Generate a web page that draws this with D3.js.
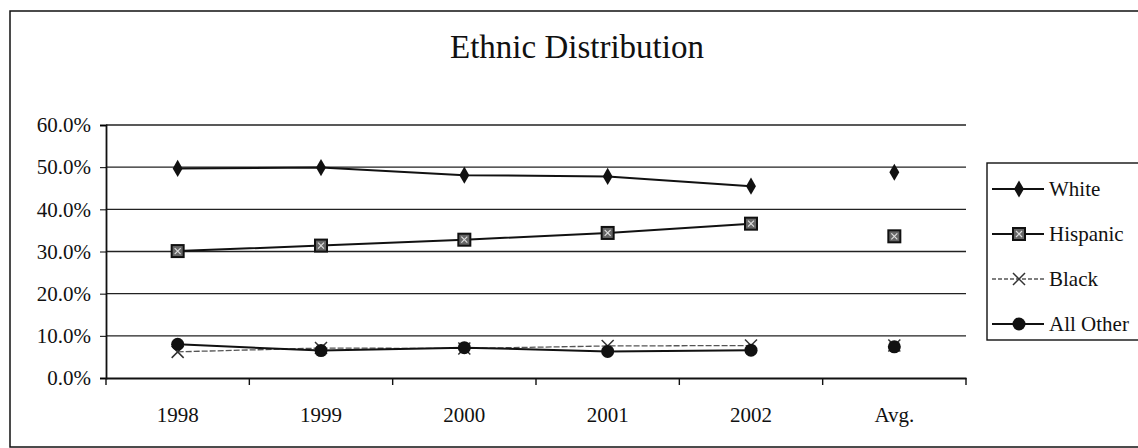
<!DOCTYPE html>
<html>
<head>
<meta charset="utf-8">
<script src="https://cdn.jsdelivr.net/npm/d3@7"></script>
<style>
  body { margin: 0; background: #fff; }
  svg text { font-family: "Liberation Serif", "DejaVu Serif", serif !important; fill: #111; }
</style>
</head>
<body>
<script>
// chart data
var years = ['1998', '1999', '2000', '2001', '2002', 'Avg.']
var white = [49.7, 49.9, 48.1, 47.8, 45.5, 48.8]
var hispanic = [30.1, 31.4, 32.8, 34.4, 36.6, 33.6]
var black = [6.2, 7.1, 7.0, 7.6, 7.7, 7.7]
var allOther = [8.0, 6.5, 7.2, 6.3, 6.6, 7.4]
var yTicks = [0, 10, 20, 30, 40, 50, 60]
var seriesNames = ['White', 'Hispanic', 'Black', 'All Other']

function main(){
    var width = 1138;
    var height = 448;

    var svg = d3.select('body')
        .append('svg')
        .attr('width', width)
        .attr('height', height)

    // outer frame
    svg.append('rect')
        .attr('x', 10).attr('y', 11)
        .attr('width', 1140).attr('height', 436)
        .attr('fill', 'none')
        .attr('stroke', '#111')
        .attr('stroke-width', 1.5)

    svg.append('text')
        .attr('x', 577).attr('y', 58)
        .attr('text-anchor', 'middle')
        .style('font-size', '33px')
        .text('Ethnic Distribution')

    var xScale = d3.scaleBand()
        .domain(years)
        .range([106, 966])

    var yScale = d3.scaleLinear()
        .domain([0, 60])
        .range([378, 125])

    // gridlines
    svg.append('g')
        .selectAll('line')
        .data(yTicks.slice(1))
        .enter()
        .append('line')
        .attr('x1', 106).attr('x2', 966)
        .attr('y1', d => yScale(d)).attr('y2', d => yScale(d))
        .attr('stroke', '#222')
        .attr('stroke-width', 1.3)

    var yAxis = svg.append('g')
        .attr('transform', 'translate(106,0)')
        .call(d3.axisLeft(yScale)
            .tickValues(yTicks)
            .tickSize(6)
            .tickPadding(9)
            .tickFormat(d => d.toFixed(1) + '%'))
    yAxis.attr('font-family', null)
    yAxis.selectAll('text').style('font-size', '21px')

    var xAxis = svg.append('g')
        .attr('transform', 'translate(0,378)')
        .call(d3.axisBottom(xScale).tickSize(0).tickPadding(29))
    xAxis.attr('font-family', null)
    xAxis.selectAll('text').style('font-size', '21px')
    // band boundary ticks
    xAxis.selectAll('.bt')
        .data(years.map((d, i) => i).concat([years.length]))
        .enter()
        .append('line')
        .attr('class', 'bt')
        .attr('x1', i => 106 + i * xScale.step())
        .attr('x2', i => 106 + i * xScale.step())
        .attr('y1', 0).attr('y2', 7)
        .attr('stroke', '#111')
        .attr('stroke-width', 1.4)

    svg.selectAll('.domain').attr('stroke', '#111').attr('stroke-width', 1.8)

    var cx = d => xScale(d) + xScale.bandwidth() / 2
    var lineGen = d3.line()
        .x((d, i) => cx(years[i]))
        .y(d => yScale(d))

    var seriesData = [white, hispanic, black, allOther]

    function drawMarker(g, k, x, y){
        if (k == 0){
            g.append('path')
                .attr('d', d3.symbol().type(d3.symbolDiamond).size(85)())
                .attr('transform', 'translate(' + x + ',' + y + ')')
                .attr('fill', '#111')
        } else if (k == 1){
            g.append('rect')
                .attr('x', x - 6).attr('y', y - 6)
                .attr('width', 12).attr('height', 12)
                .attr('fill', '#666').attr('stroke', '#111').attr('stroke-width', 2)
            g.append('path')
                .attr('d', 'M' + (x - 3) + ',' + (y - 3) + 'L' + (x + 3) + ',' + (y + 3) + 'M' + (x + 3) + ',' + (y - 3) + 'L' + (x - 3) + ',' + (y + 3))
                .attr('stroke', '#ddd').attr('stroke-width', 1.2)
        } else if (k == 2){
            g.append('path')
                .attr('d', 'M' + (x - 6) + ',' + (y - 6) + 'L' + (x + 6) + ',' + (y + 6) + 'M' + (x + 6) + ',' + (y - 6) + 'L' + (x - 6) + ',' + (y + 6))
                .attr('stroke', '#333').attr('stroke-width', 1.5)
        } else {
            g.append('circle')
                .attr('cx', x).attr('cy', y).attr('r', 6.5)
                .attr('fill', '#111')
        }
    }

    var plot = svg.append('g')
    seriesData.forEach(function (vals, k){
        // the average point is not joined to the line
        plot.append('path')
            .datum(vals.slice(0, 5))
            .attr('fill', 'none')
            .attr('stroke', k == 2 ? '#555' : '#111')
            .attr('stroke-width', k == 2 ? 1.3 : 2)
            .attr('stroke-dasharray', k == 2 ? '6,2' : null)
            .attr('d', lineGen)
    })
    ;[2, 1, 0, 3].forEach(function (k){
        seriesData[k].forEach(function (v, i){
            drawMarker(plot, k, cx(years[i]), yScale(v))
        })
    })

    // legend
    var leg = svg.append('g')
    leg.append('rect')
        .attr('x', 987).attr('y', 163)
        .attr('width', 170).attr('height', 177)
        .attr('fill', '#fff')
        .attr('stroke', '#111')
        .attr('stroke-width', 1.4)
    var legY = d3.scalePoint()
        .domain(seriesNames)
        .range([189, 324])
    seriesNames.forEach(function (name, k){
        var y = legY(name)
        leg.append('line')
            .attr('x1', 992).attr('x2', 1044)
            .attr('y1', y).attr('y2', y)
            .attr('stroke', k == 2 ? '#555' : '#111')
            .attr('stroke-width', k == 2 ? 1.3 : 2)
            .attr('stroke-dasharray', k == 2 ? '4,2' : null)
        drawMarker(leg, k, 1019, y)
        leg.append('text')
            .attr('x', 1049).attr('y', y + 7)
            .style('font-size', '21px')
            .text(name)
    })
}

main()
</script>
</body>
</html>
